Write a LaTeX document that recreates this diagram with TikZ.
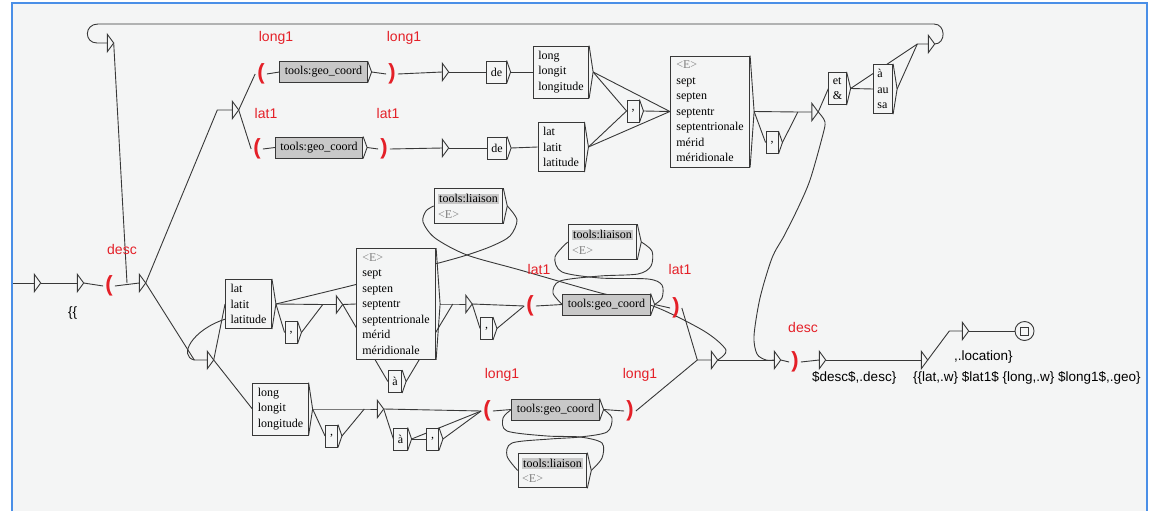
\documentclass[tikz,border=0pt]{standalone}
\usepackage{fontspec}
\setmainfont{Liberation Serif}
\setsansfont{Liberation Sans}
\usetikzlibrary{calc}
\pgfdeclarelayer{edges}
\pgfsetlayers{edges,main}
\definecolor{paper}{HTML}{F4F5F5}
\definecolor{frame}{HTML}{4A8FE7}
\definecolor{varred}{RGB}{228,32,40}
\definecolor{callgray}{HTML}{C8C8C8}
\setlength{\fboxsep}{1pt}

\begin{document}
\begin{tikzpicture}[x=1pt,y=-1pt]
                \tikzstyle{wire} = [line width=0.9pt, color=black!78]
                \tikzstyle{box} = [draw=black!78, line width=0.9pt, fill=paper, align=left, font=\fontsize{12}{15.5}\selectfont, inner xsep=5pt, inner ysep=5pt]
                \tikzstyle{smallbox} = [box, minimum width=12pt, minimum height=22pt, inner xsep=4pt, inner ysep=1pt, align=center]
                \tikzstyle{call} = [box, fill=callgray, minimum height=21pt, inner ysep=2pt]
                \tikzstyle{tri} = [minimum width=6pt, minimum height=17pt, inner sep=0pt]
                \tikzstyle{paren} = [text=varred, font=\sffamily\bfseries\fontsize{22}{22}\selectfont, inner sep=2pt]
                \tikzstyle{var} = [text=varred, font=\sffamily\fontsize{14}{16}\selectfont]
                \tikzstyle{outtext} = [font=\sffamily\fontsize{13.5}{16}\selectfont, anchor=west, inner sep=0pt]
                \useasboundingbox (0,0) rectangle (1150,511);
                \node[tri] (t1) at (37.5,283) {};
                \node[tri] (t2) at (80.5,283) {};
                \node[paren] (lp0) at (109,286) {(};
                \node[tri] (t3) at (142.5,283) {};
                \node[tri] (tl) at (110.5,43) {};
                \node[tri] (tr) at (931.5,44) {};
                \node[tri] (ttop) at (235.5,110) {};
                \node[tri] (tmid) at (210.5,360) {};
                \node[paren] (lp1) at (261,74) {(};
                \node[call] (gc1) at (323.5,72) {tools:geo\_coord};
                \node[paren] (rp1) at (392,74) {)};
                \node[tri] (t4) at (445.5,72) {};
                \node[smallbox] (de1) at (496.5,72) {de};
                \node[box] (lg1) at (561,72) {long\\longit\\longitude};
                \node[paren] (lp2) at (257,149) {(};
                \node[call] (gc2) at (319,147.5) {tools:geo\_coord};
                \node[paren] (rp2) at (384,149) {)};
                \node[tri] (t5) at (445.5,148) {};
                \node[smallbox] (de2) at (497,148) {de};
                \node[box] (lt1) at (561,147) {lat\\latit\\latitude};
                \node[smallbox] (cm1) at (633,111) {,};
                \node[box, inner xsep=6pt] (dir1) at (710,111.5) {\textcolor{gray}{<E>}\\sept\\septen\\septentr\\septentrionale\\mérid\\méridionale};
                \node[smallbox] (cm2) at (772,142.5) {,};
                \node[tri] (t6) at (815,112) {};
                \node[box, inner xsep=4pt] (et) at (837.5,88.5) {et\\\&};
                \node[box, inner xsep=4pt] (aau) at (883,89) {à\\au\\sa};
                \node[box] (lt2) at (248.5,304) {lat\\latit\\latitude};
                \node[smallbox] (cm3) at (291,332.5) {,};
                \node[tri] (t7) at (339.5,304.5) {};
                \node[box, inner xsep=6pt] (dir2) at (396,304) {\textcolor{gray}{<E>}\\sept\\septen\\septentr\\septentrionale\\mérid\\méridionale};
                \node[smallbox] (a1) at (395,381.5) {à};
                \node[tri] (t8) at (469,304) {};
                \node[smallbox] (cm4) at (486.5,328.5) {,};
                \node[box, inner xsep=4pt] (li1) at (468.5,206) {\colorbox{callgray}{tools:liaison}\\\textcolor{gray}{<E>}};
                \node[paren] (lp3) at (530,306) {(};
                \node[call] (gc3) at (606.5,304.5) {tools:geo\_coord};
                \node[paren] (rp3) at (676,308) {)};
                \node[box, inner xsep=4pt] (li2) at (602.5,242) {\colorbox{callgray}{tools:liaison}\\\textcolor{gray}{<E>}};
                \node[box] (lg2) at (280.5,409) {long\\longit\\longitude};
                \node[smallbox] (cm5) at (331.5,436) {,};
                \node[tri] (t11) at (380.5,409) {};
                \node[smallbox] (a2) at (400.5,439) {à};
                \node[smallbox] (cm6) at (432.5,439) {,};
                \node[paren] (lp4) at (487,411) {(};
                \node[call] (gc4) at (555.5,409.5) {tools:geo\_coord};
                \node[paren] (rp4) at (630,411) {)};
                \node[box, inner xsep=4pt] (li3) at (552.5,470.5) {\colorbox{callgray}{tools:liaison}\\\textcolor{gray}{<E>}};
                \node[tri] (t10) at (714.5,360) {};
                \node[tri] (t9) at (777.5,360) {};
                \node[paren] (rp5) at (795,362) {)};
                \node[tri] (t12) at (822.5,360) {};
                \node[tri] (t13) at (924.5,360) {};
                \node[tri] (t14) at (965.5,331) {};
                \node[circle, draw=black!78, line width=0.9pt, minimum size=19pt, inner sep=0pt] (fin) at (1024.5,331) {};
                \node[draw=black!78, line width=0.9pt, minimum size=8pt, inner sep=0pt] (fsq) at (fin) {};
                \node[var] (vlong1a) at (276,38) {long1};
                \node[var] (vlong1b) at (404,38) {long1};
                \node[var] (vlat1a) at (266,113) {lat1};
                \node[var] (vlat1b) at (388,113) {lat1};
                \node[var] (vdesc1) at (122,249) {desc};
                \node[var] (vlat1c) at (539,269) {lat1};
                \node[var] (vlat1d) at (680,269) {lat1};
                \node[var] (vlong1c) at (502,375) {long1};
                \node[var] (vlong1d) at (640,375) {long1};
                \node[var] (vdesc2) at (803,327) {desc};
                \node[outtext] (o1) at (68,313) {\{\{};
                \node[outtext] (o2) at (812,378) {\$desc\$,.desc\}};
                \node[outtext] (o3) at (913,378) {\{\{lat,.w\} \$lat1\$ \{long,.w\} \$long1\$,.geo\}};
                \node[outtext] (o4) at (954,357) {,.location\}};
                \foreach \t in {t1,t2,t3,tl,tr,ttop,tmid,t4,t5,t6,t7,t8,t9,t10,t11,t12,t13,t14}
                    \draw[wire, fill=paper] (\t.north west) -- (\t.east) -- (\t.south west) -- cycle;
                \foreach \b in {gc1,gc2,gc3,gc4,de1,de2,lg1,lt1,cm1,cm2,cm3,cm4,cm5,cm6,dir1,dir2,et,aau,lt2,lg2,a1,a2,li1,li2,li3}
                    \draw[wire] (\b.north east) -- ($(\b.east)+(4,0)$) coordinate (\b-o) -- (\b.south east);
                \coordinate (start) at (13,283);
                \coordinate (j0) at (127,283);
                \coordinate (ttop-i) at ($(ttop.west)+(-15,0)$);
                \coordinate (tmid-i) at ($(tmid.west)+(-13,0)$);
                \coordinate (t6-i) at ($(t6.west)+(-14,0)$);
                \coordinate (tr-i) at ($(tr.west)+(-11,0)$);
                \coordinate (t7-i) at ($(t7.west)+(-13.5,0)$);
                \coordinate (t8-i) at ($(t8.west)+(-13,0)$);
                \coordinate (t10-i) at ($(t10.west)+(-14,0)$);
                \coordinate (t11-i) at ($(t11.west)+(-13,0)$);
                \coordinate (t14-i) at ($(t14.west)+(-13,0)$);
                \begin{pgfonlayer}{edges}
                \fill[white] (0,0) rectangle (1150,511);
                \fill[paper] (12,4) rectangle (1146,511);
                \draw[frame, line width=2pt] (11.5,511) -- (11.5,3) -- (1147,3) -- (1147,511);
                \draw[wire] (start) -- (t1.west);
                \draw[wire] (t1.east) -- (t2.west);
                \draw[wire] (t2.east) -- (lp0.west);
                \draw[wire] (lp0.east) -- (t3.west);
                \draw[wire] (tl.east) -- (j0);
                \draw[wire] (tr.east) .. controls (946,44) and (946,24) .. (934,24) -- (98,24) .. controls (84,24) and (84,43) .. (97,43) -- (tl.west);
                \draw[wire] (t3.east) -- (ttop-i) -- (ttop.west);
                \draw[wire] (t3.east) -- (tmid-i) -- (tmid.west);
                \draw[wire] (ttop.east) -- (lp1.west);
                \draw[wire] (ttop.east) -- (lp2.west);
                \draw[wire] (lp1.east) -- (gc1.west);
                \draw[wire] (gc1-o) -- (rp1.west);
                \draw[wire] (rp1.east) -- (t4.west);
                \draw[wire] (t4.east) -- (de1.west);
                \draw[wire] (de1-o) -- (lg1.west);
                \draw[wire] (lp2.east) -- (gc2.west);
                \draw[wire] (gc2-o) -- (rp2.west);
                \draw[wire] (rp2.east) -- (t5.west);
                \draw[wire] (t5.east) -- (de2.west);
                \draw[wire] (de2-o) -- (lt1.west);
                \draw[wire] (lg1-o) -- (cm1.west);
                \draw[wire] (lg1-o) -- (dir1.west);
                \draw[wire] (lt1-o) -- (cm1.west);
                \draw[wire] (lt1-o) -- (dir1.west);
                \draw[wire] (cm1-o) -- (dir1.west);
                \draw[wire] (dir1-o) -- (t6-i) -- (t6.west);
                \draw[wire] (dir1-o) -- (cm2.west);
                \draw[wire] (cm2-o) -- (t6-i);
                \draw[wire] (t6.east) -- (et.west);
                \draw[wire] (et-o) -- (aau.west);
                \draw[wire] (et-o) -- (tr-i);
                \draw[wire] (aau-o) -- (tr-i) -- (tr.west);
                \draw[wire] plot[smooth] coordinates {(t6.east) (825,122) (822,138) (810,180) (798,208) (784,236) (772,258) (760,298) (754,336) (757,354) (766,360) (t9.west)};
                \draw[wire] (tmid.east) -- (lt2.west);
                \draw[wire] (tmid.east) -- (lg2.west);
                \draw[wire] ($(lt2.south west)+(0,-10)$) .. controls (192,330) and (178,356) .. (tmid-i);
                \draw[wire] (lt2-o) -- (t7-i) -- (t7.west);
                \draw[wire] (lt2-o) -- (cm3.west);
                \draw[wire] (cm3-o) -- (t7-i);
                \draw[wire] (t7.east) -- (dir2.west);
                \draw[wire] (t7.east) -- (a1.west);
                \draw[wire] (dir2-o) -- (t8-i) -- (t8.west);
                \draw[wire] (a1-o) -- (t8-i);
                \draw[wire] (t8.east) -- (lp3.west);
                \draw[wire] (t8.east) -- (cm4.west);
                \draw[wire] (cm4-o) -- (lp3.west);
                \draw[wire] (lp3.east) -- (gc3.west);
                \draw[wire] (gc3-o) -- (rp3.west);
                \draw[wire] (rp3.east) -- (t10-i) -- (t10.west);
                \draw[wire] plot[smooth] coordinates {(gc3-o) (662,298) (662,285) (648,279) (600,278) (562,272) (555,257) (li2.west)};
                \draw[wire] plot[smooth] coordinates {(li2-o) (652,251) (651,266) (638,274) (600,276) (560,281) (553,293) (gc3.west)};
                \draw[wire] plot[smooth] coordinates {(t10.east) (726,350) (704,331) (653,306) (597,292) (520,270) (467,255) (435,238) (423,222) (426,211) (li1.west)};
                \draw[wire] plot[smooth] coordinates {(lt2-o) (358,284) (435,264) (467,255) (492,246) (510,236) (517,220) (li1-o)};
                \draw[wire] (lg2-o) -- (t11-i) -- (t11.west);
                \draw[wire] (lg2-o) -- (cm5.west);
                \draw[wire] (cm5-o) -- (t11-i);
                \draw[wire] (t11.east) -- (lp4.west);
                \draw[wire] (t11.east) -- (a2.west);
                \draw[wire] (a2-o) -- (cm6.west);
                \draw[wire] (a2-o) -- (lp4.west);
                \draw[wire] (cm6-o) -- (lp4.west);
                \draw[wire] (lp4.east) -- (gc4.west);
                \draw[wire] (gc4-o) -- (rp4.west);
                \draw[wire] (rp4.east) -- (t10-i);
                \draw[wire] plot[smooth] coordinates {(gc4-o) (612,418) (607,432) (580,437) (550,439) (512,443) (507,456) (li3.west)};
                \draw[wire] plot[smooth] coordinates {(li3-o) (602,458) (602,443) (580,437) (547,436) (507,431) (503,418) (gc4.west)};
                \draw[wire] (t10.east) -- (t9.west);
                \draw[wire] (t9.east) -- (rp5.west);
                \draw[wire] (rp5.east) -- (t12.west);
                \draw[wire] (t12.east) -- (t13.west);
                \draw[wire] (t13.east) -- (t14-i) -- (t14.west);
                \draw[wire] (t14.east) -- (fin.west);
                \end{pgfonlayer}
            \end{tikzpicture}
\end{document}
